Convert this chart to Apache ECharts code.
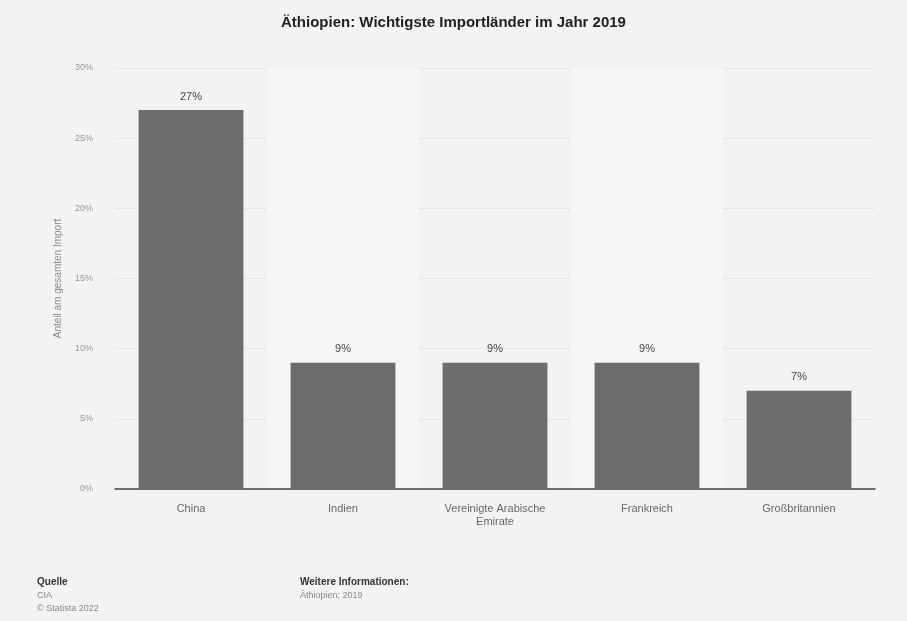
<!DOCTYPE html>
<html><head><meta charset="utf-8">
<script src="https://cdn.jsdelivr.net/npm/echarts@6/dist/echarts.min.js"></script>
<style>html,body{margin:0;padding:0;background:#f3f3f3;}#c{width:907px;height:621px;}</style>
</head><body><div id="c"></div>
<script>
const categories = ['China', 'Indien', 'Vereinigte Arabische\nEmirate', 'Frankreich', 'Großbritannien'];
const values = [27, 9, 9, 9, 7];
const yTicks = [0, 5, 10, 15, 20, 25, 30];

const chart = echarts.init(document.getElementById('c'));
chart.setOption({
  backgroundColor: '#f3f3f3',
  animation: false,
  title: {
    text: 'Äthiopien: Wichtigste Importländer im Jahr 2019',
    left: 'center', top: 10,
    textStyle: {fontFamily: 'Liberation Sans', fontSize: 15, fontWeight: 'bold', color: '#222'}
  },
  grid: {left: 115, right: 32, top: 68, bottom: 132},
  xAxis: {
    type: 'category', data: categories,
    axisLine: {lineStyle: {color: '#444', width: 1.5}},
    axisTick: {show: false},
    axisLabel: {color: '#666', fontSize: 11, fontFamily: 'Liberation Sans', margin: 13, lineHeight: 13},
    splitArea: {show: true, areaStyle: {color: ['rgba(0,0,0,0)', '#f7f7f7']}}
  },
  yAxis: {
    type: 'value', min: 0, max: 30, interval: 5,
    name: 'Anteil am gesamten Import', nameLocation: 'middle', nameGap: 52,
    nameTextStyle: {color: '#888', fontSize: 10, fontFamily: 'Liberation Sans'},
    axisLine: {show: false}, axisTick: {show: false},
    axisLabel: {color: '#999', fontSize: 9, fontFamily: 'Liberation Sans', margin: 22,
      formatter: v => yTicks.includes(v) ? v + '%' : ''},
    splitLine: {lineStyle: {color: '#e6e6e6', width: 1}}
  },
  series: [{
    type: 'bar', data: values, barWidth: '69%',
    itemStyle: {color: '#6d6d6d'},
    label: {show: true, position: 'top', formatter: '{c}%', color: '#444', fontSize: 11,
      fontFamily: 'Liberation Sans', distance: 8}
  }],
  graphic: [
    {type: 'text', left: 37, top: 577, style: {text: 'Quelle', fill: '#333', fontSize: 10, fontFamily: 'Liberation Sans', fontWeight: 'bold'}},
    {type: 'text', left: 37, top: 591, style: {text: 'CIA', fill: '#888', fontSize: 9, fontFamily: 'Liberation Sans'}},
    {type: 'text', left: 37, top: 604, style: {text: '© Statista 2022', fill: '#888', fontSize: 9, fontFamily: 'Liberation Sans'}},
    {type: 'text', left: 300, top: 577, style: {text: 'Weitere Informationen:', fill: '#333', fontSize: 10, fontFamily: 'Liberation Sans', fontWeight: 'bold'}},
    {type: 'text', left: 300, top: 591, style: {text: 'Äthiopien; 2019', fill: '#888', fontSize: 9, fontFamily: 'Liberation Sans'}}
  ]
});
</script></body></html>
